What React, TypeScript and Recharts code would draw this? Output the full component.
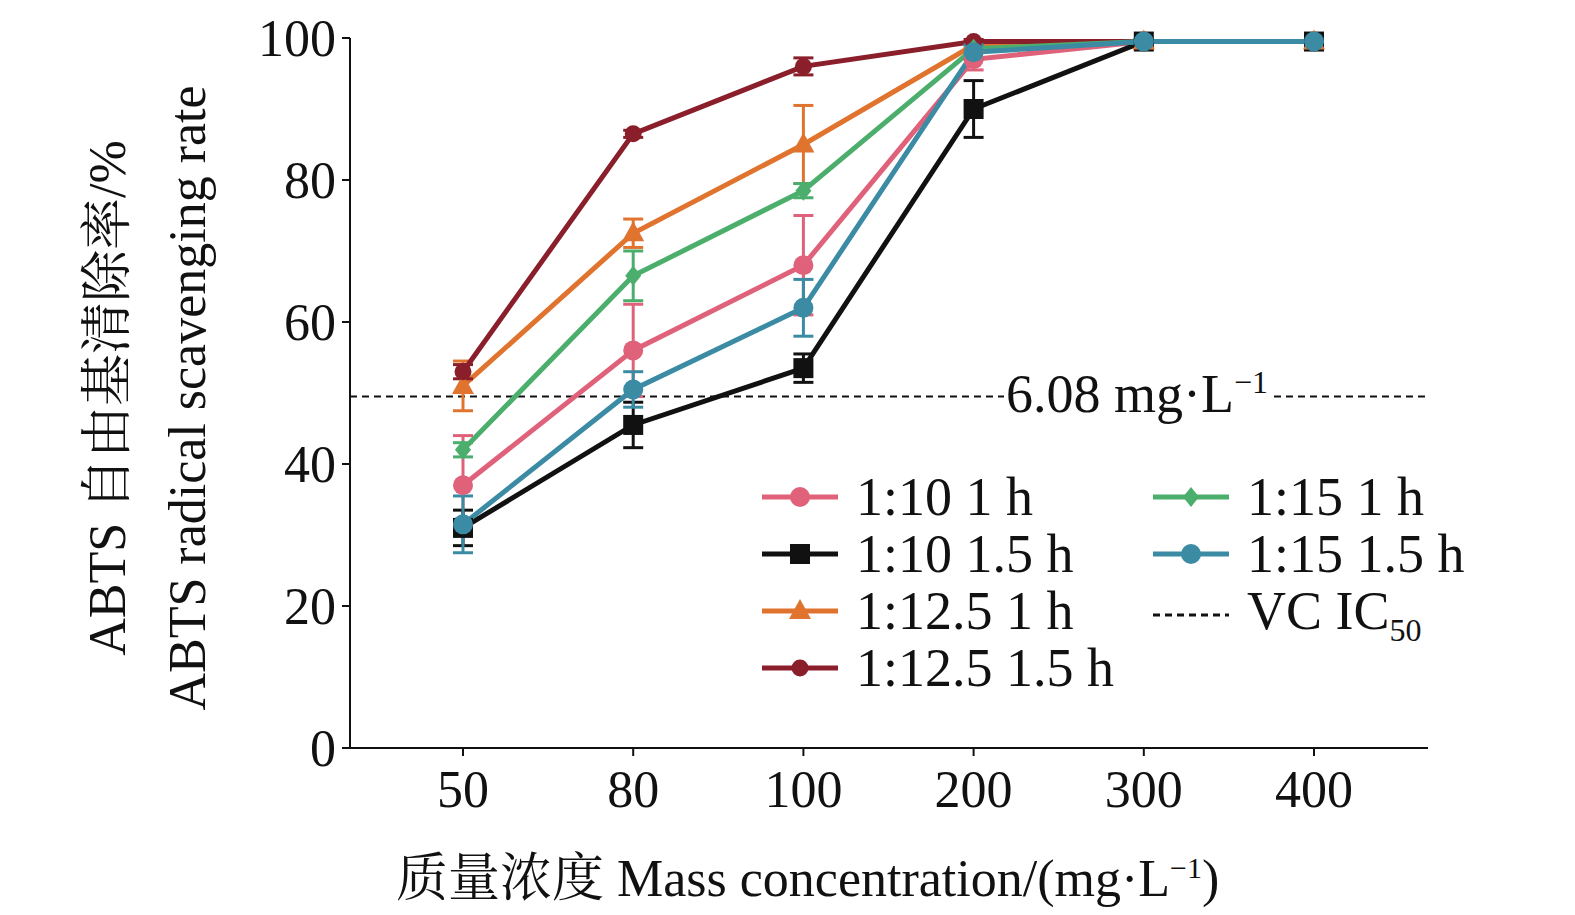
import React from "react";
import { LineChart, Line, XAxis, YAxis, ErrorBar, ReferenceLine } from "recharts";

const concentrations = ["50", "80", "100", "200", "300", "400"];
const r10h1 = [37, 56, 68, 97, 99.5, 99.5];
const r10h1Err = [7, 6.5, 7, 1.5, 0.3, 0.3];
const r10h15 = [31, 45.5, 53.5, 90, 99.5, 99.5];
const r10h15Err = [2.5, 3.2, 2, 4, 0.3, 0.3];
const r125h1 = [51, 72.5, 85, 99, 99.5, 99.5];
const r125h1Err = [3.5, 2, 5.5, 0.5, 0.3, 0.3];
const r125h15 = [53, 86.5, 96, 99.5, 99.5, 99.5];
const r125h15Err = [1, 0.5, 1.2, 0.3, 0.3, 0.3];
const r15h1 = [42, 66.5, 78.5, 98.5, 99.5, 99.5];
const r15h1Err = [1, 3.5, 1, 0.5, 0.3, 0.3];
const r15h15 = [31.5, 50.5, 62, 98, 99.5, 99.5];
const r15h15Err = [4, 2.5, 4, 1, 0.3, 0.3];
const yTicks = [0, 20, 40, 60, 80, 100];
const vcIC50 = 49.5;

const data = concentrations.map((c, i) => ({
  c,
  a: r10h1[i], aE: r10h1Err[i],
  b: r10h15[i], bE: r10h15Err[i],
  d: r125h1[i], dE: r125h1Err[i],
  e: r125h15[i], eE: r125h15Err[i],
  f: r15h1[i], fE: r15h1Err[i],
  g: r15h15[i], gE: r15h15Err[i],
}));

type Shape = "circle" | "square" | "triangle" | "hex" | "diamond";

const Marker = ({ x, y, color, shape, r = 10 }: any) => {
  if (x == null || y == null) return null;
  if (shape === "square") return <rect x={x - r} y={y - r} width={2 * r} height={2 * r} fill={color} />;
  if (shape === "triangle")
    return <polygon points={`${x},${y - r * 1.2} ${x - r * 1.1},${y + r * 0.8} ${x + r * 1.1},${y + r * 0.8}`} fill={color} />;
  if (shape === "diamond")
    return <polygon points={`${x},${y - r} ${x + r * 0.8},${y} ${x},${y + r} ${x - r * 0.8},${y}`} fill={color} />;
  if (shape === "hex") return <circle cx={x} cy={y} r={r * 0.85} fill={color} />;
  return <circle cx={x} cy={y} r={r} fill={color} />;
};

const series: { key: string; name: string; color: string; shape: Shape }[] = [
  { key: "a", name: "1:10 1 h", color: "#e0627a", shape: "circle" },
  { key: "b", name: "1:10 1.5 h", color: "#111111", shape: "square" },
  { key: "d", name: "1:12.5 1 h", color: "#e0742f", shape: "triangle" },
  { key: "e", name: "1:12.5 1.5 h", color: "#8a1f2b", shape: "hex" },
  { key: "f", name: "1:15 1 h", color: "#4cae6c", shape: "diamond" },
  { key: "g", name: "1:15 1.5 h", color: "#3a8ba3", shape: "circle" },
];

const font = "'Liberation Serif', 'Noto Serif CJK SC', 'Noto Sans CJK SC', serif";

const LegendItem = ({ s, x, y }: any) => (
  <div style={{ position: "absolute", left: x, top: y, display: "flex", alignItems: "center" }}>
    <svg width={80} height={30}>
      <line x1={2} y1={15} x2={78} y2={15} stroke={s.color} strokeWidth={5} />
      <Marker x={40} y={15} color={s.color} shape={s.shape} />
    </svg>
    <span style={{ fontSize: 54, marginLeft: 16, lineHeight: 1 }}>{s.name}</span>
  </div>
);

export default function App() {
  return (
    <div style={{ position: "relative", width: 1560, height: 900, fontFamily: font, color: "#111" }}>
      <LineChart width={1560} height={900} data={data} margin={{ top: 30, right: 140, left: 242, bottom: 100 }}>
        <XAxis
          dataKey="c"
          padding={{ left: 113, right: 114 }}
          stroke="#111"
          strokeWidth={2}
          tickSize={8}
          height={60}
          tick={{ fontSize: 52, fill: "#111", fontFamily: font, dy: 12 }}
        />
        <YAxis
          domain={[0, 100]}
          ticks={yTicks}
          width={100}
          stroke="#111"
          strokeWidth={2}
          tickSize={8}
          tick={{ fontSize: 52, fill: "#111", fontFamily: font, dx: -4 }}
        />
        <ReferenceLine y={vcIC50} stroke="#111" strokeWidth={2} strokeDasharray="7 5" />
        {series.map((s) => (
          <Line
            key={s.key}
            dataKey={s.key}
            stroke={s.color}
            strokeWidth={5}
            isAnimationActive={false}
            dot={(p: any) => <Marker key={`${s.key}-${p.index}`} x={p.cx} y={p.cy} color={s.color} shape={s.shape} />}
          >
            <ErrorBar dataKey={`${s.key}E`} stroke={s.color} strokeWidth={3} width={10} />
          </Line>
        ))}
      </LineChart>
      <div style={{ position: "absolute", left: 996, top: 358, fontSize: 54, background: "white", lineHeight: 1, padding: "0 2px" }}>
        6.08 mg·L<sup style={{ fontSize: 32 }}>−1</sup>
      </div>
      <LegendItem s={series[0]} x={752} y={462} />
      <LegendItem s={series[1]} x={752} y={519} />
      <LegendItem s={series[2]} x={752} y={576} />
      <LegendItem s={series[3]} x={752} y={633} />
      <LegendItem s={series[4]} x={1143} y={462} />
      <LegendItem s={series[5]} x={1143} y={519} />
      <div style={{ position: "absolute", left: 1143, top: 576, display: "flex", alignItems: "center" }}>
        <svg width={80} height={30}>
          <line x1={2} y1={15} x2={78} y2={15} stroke="#111" strokeWidth={3} strokeDasharray="7 5" />
        </svg>
        <span style={{ fontSize: 54, marginLeft: 16, lineHeight: 1 }}>
          VC IC<sub style={{ fontSize: 32 }}>50</sub>
        </span>
      </div>
      <div style={{ position: "absolute", left: 388, top: 828, fontSize: 52, whiteSpace: "nowrap" }}>
        质量浓度 Mass concentration/(mg·L<sup style={{ fontSize: 30 }}>−1</sup>)
      </div>
      <div
        style={{
          position: "absolute", left: 100, top: 390, fontSize: 52, whiteSpace: "nowrap",
          transform: "translate(-50%, -50%) rotate(-90deg)", lineHeight: 1,
        }}
      >
        ABTS 自由基清除率/%
      </div>
      <div
        style={{
          position: "absolute", left: 180, top: 390, fontSize: 52, whiteSpace: "nowrap",
          transform: "translate(-50%, -50%) rotate(-90deg)", lineHeight: 1,
        }}
      >
        ABTS radical scavenging rate
      </div>
    </div>
  );
}
